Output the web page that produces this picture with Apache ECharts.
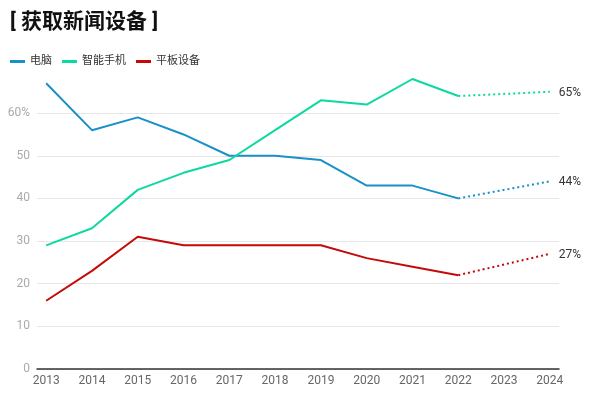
<!DOCTYPE html>
<html>
<head>
<meta charset="utf-8">
<script src="https://cdn.jsdelivr.net/npm/echarts@6/dist/echarts.min.js"></script>
<style>
html,body{margin:0;padding:0;background:#fff;}
#chart{width:600px;height:400px;}
</style>
</head>
<body>
<div id="chart"></div>
<script>
var titleText = '[ 获取新闻设备 ]';
var seriesNames = ['电脑', '智能手机', '平板设备'];
var years = [2013, 2014, 2015, 2016, 2017, 2018, 2019, 2020, 2021, 2022];
var tickYears = [2013, 2014, 2015, 2016, 2017, 2018, 2019, 2020, 2021, 2022, 2023, 2024];
var computer = [67, 56, 59, 55, 50, 50, 49, 43, 43, 40];
var phone = [29, 33, 42, 46, 49, 56, 63, 62, 68, 64];
var tablet = [16, 23, 31, 29, 29, 29, 29, 26, 24, 22];
var forecastYears = [2022, 2024];
var computerForecast = [40, 44];
var phoneForecast = [64, 65];
var tabletForecast = [22, 27];
var colors = ['#1a90c9', '#0cd9a0', '#c40a0a'];

var FONT = 'Roboto, "Noto Sans CJK SC", sans-serif';

function pairs(xs, ys) { return xs.map(function (x, i) { return [x, ys[i]]; }); }

function solid(name, ys, color) {
  return {
    name: name, type: 'line', data: pairs(years, ys),
    symbol: 'none', lineStyle: { width: 2, color: color }, itemStyle: { color: color },
    animation: false
  };
}
function dotted(name, ys, color) {
  return {
    name: name + '预测', type: 'line', data: pairs(forecastYears, ys),
    symbol: 'none', lineStyle: { width: 2, color: color, type: [2, 3] }, itemStyle: { color: color },
    endLabel: { show: true, formatter: function (p) { return p.value[1] + '%'; }, color: '#333', fontSize: 12, fontFamily: FONT, distance: 9, offset: [0, 1] },
    animation: false
  };
}

var chart = echarts.init(document.getElementById('chart'));
chart.setOption({
  backgroundColor: '#fff',
  title: {
    text: titleText, left: 5, top: 7,
    textStyle: { fontSize: 21, fontWeight: 'bold', color: '#111', fontFamily: FONT }
  },
  legend: {
    data: seriesNames, left: 5, top: 51, icon: 'rect', itemWidth: 15, itemHeight: 3, itemGap: 10,
    textStyle: { fontSize: 11, color: '#333', fontFamily: FONT }
  },
  grid: { left: 37, right: 41, top: 79, bottom: 31 },
  xAxis: {
    type: 'value', min: 2012.8, max: 2024.2,
    axisLine: { show: true, lineStyle: { color: '#333', width: 1.5 } },
    axisTick: { show: false },
    splitLine: { show: false },
    axisLabel: {
      customValues: tickYears, formatter: function (v) { return String(v); },
      color: '#666', fontSize: 12, fontFamily: FONT, margin: 6
    }
  },
  yAxis: {
    type: 'value', min: 0, max: 68, interval: 10,
    axisLine: { show: false }, axisTick: { show: false },
    splitLine: { show: true, showMaxLine: false, lineStyle: { color: '#e6e6e6', width: 1 } },
    axisLabel: {
      showMaxLabel: false, color: '#aaa', fontSize: 12, fontFamily: FONT, margin: 7,
      formatter: function (v) { return v === 60 ? '60%' : String(v); }
    }
  },
  series: [
    solid(seriesNames[0], computer, colors[0]),
    solid(seriesNames[1], phone, colors[1]),
    solid(seriesNames[2], tablet, colors[2]),
    dotted(seriesNames[0], computerForecast, colors[0]),
    dotted(seriesNames[1], phoneForecast, colors[1]),
    dotted(seriesNames[2], tabletForecast, colors[2])
  ]
});
</script>
</body>
</html>
